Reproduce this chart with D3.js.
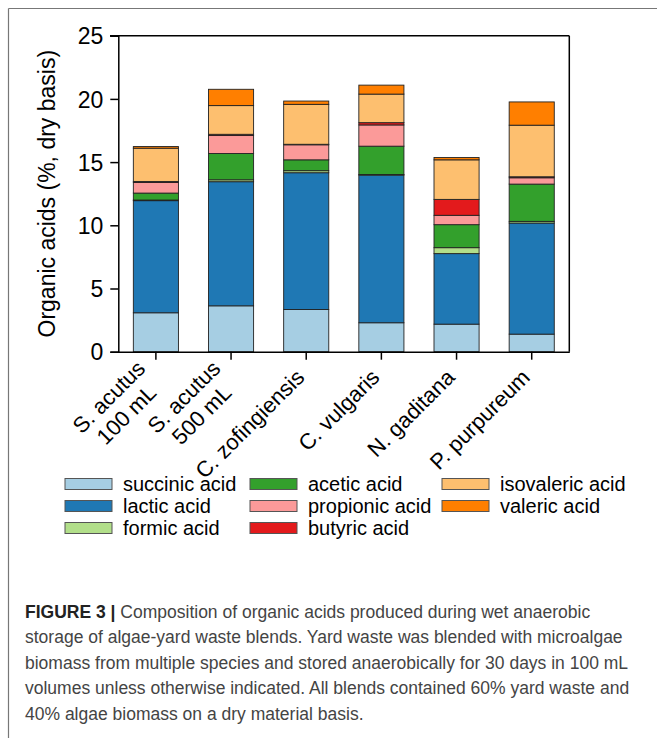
<!DOCTYPE html>
<html><head><meta charset="utf-8">
<script src="https://cdn.jsdelivr.net/npm/d3@7"></script>
<style>body{margin:0;background:#fff;}svg{display:block;font-family:"Liberation Sans",Arial,sans-serif;}</style>
</head><body><svg id="c" width="657" height="738"></svg>
<script>
const categories = [["S. acutus","100 mL"],["S. acutus","500 mL"],["C. zofingiensis"],["C. vulgaris"],["N. gaditana"],["P. purpureum"]];
const acids = ["succinic acid","lactic acid","formic acid","acetic acid","propionic acid","butyric acid","isovaleric acid","valeric acid"];
const colors = ["#a6cee3","#1f78b4","#b2df8a","#33a02c","#fb9a99","#e31a1c","#fdbf6f","#ff7f00"];
const succinic   = [3.08, 3.63, 3.34, 2.29, 2.18, 1.39];
const lactic     = [8.87, 9.82, 10.82, 11.68, 5.58, 8.79];
const formic     = [0.05, 0.15, 0.16, 0.05, 0.47, 0.13];
const acetic     = [0.55, 2.08, 0.86, 2.24, 1.82, 2.95];
const propionic  = [0.84, 1.42, 1.19, 1.68, 0.74, 0.50];
const butyric    = [0.08, 0.10, 0.04, 0.18, 1.26, 0.08];
const isovaleric = [2.63, 2.27, 3.16, 2.26, 3.13, 4.08];
const valeric    = [0.13, 1.29, 0.26, 0.71, 0.18, 1.84];
const yTicks = [0,5,10,15,20,25];
const caption = [
 "Composition of organic acids produced during wet anaerobic",
 "storage of algae-yard waste blends. Yard waste was blended with microalgae",
 "biomass from multiple species and stored anaerobically for 30 days in 100 mL",
 "volumes unless otherwise indicated. All blends contained 60% yard waste and",
 "40% algae biomass on a dry material basis."
];

const series = [succinic,lactic,formic,acetic,propionic,butyric,isovaleric,valeric];
const keys = categories.map(c=>c.join(" "));
const rows = keys.map((k,i)=>{const r={key:k}; acids.forEach((a,j)=>r[a]=series[j][i]); return r;});
const stacked = d3.stack().keys(acids)(rows);

const svg = d3.select("#c");
// figure border (top and left)
svg.append("line").attr("x1",8.5).attr("x2",657).attr("y1",8.5).attr("y2",8.5).attr("stroke","#777").attr("stroke-width",1.2);
svg.append("line").attr("x1",8.5).attr("x2",8.5).attr("y1",8.5).attr("y2",738).attr("stroke","#777").attr("stroke-width",1.2);

const L=118.3, R=569.3, T=35.7, B=351.7;
const x = d3.scaleBand().domain(keys).range([L,R]).paddingInner(0.4).paddingOuter(0.2);
const y = d3.scaleLinear().domain([0,25]).range([B,T]);

// bars
const g = svg.append("g");
stacked.forEach((s,j)=>{
  g.selectAll(null).data(s).enter().append("rect")
   .attr("x",d=>x(d.data.key)).attr("width",x.bandwidth())
   .attr("y",d=>y(d[1])).attr("height",d=>y(d[0])-y(d[1]))
   .attr("fill",colors[j]).attr("stroke","#222").attr("stroke-width",0.9);
});

// frame top/right
svg.append("line").attr("x1",110).attr("x2",R).attr("y1",T).attr("y2",T).attr("stroke","#000").attr("stroke-width",1.5);
svg.append("line").attr("x1",R).attr("x2",R).attr("y1",T).attr("y2",B).attr("stroke","#000").attr("stroke-width",1.5);

// y axis
const ya = svg.append("g").attr("transform",`translate(${L},0)`)
 .call(d3.axisLeft(y).tickValues(yTicks).tickSize(8).tickPadding(7).tickFormat(d3.format("d")));
ya.select(".domain").attr("stroke","#000").attr("stroke-width",1.5);
ya.selectAll(".tick line").attr("stroke","#000").attr("stroke-width",1.5);
ya.selectAll("text").attr("font-size",23).attr("font-family","Liberation Sans, Arial").attr("fill","#000").attr("dy","0.36em");

// x axis
const xa = svg.append("g").attr("transform",`translate(0,${B})`)
 .call(d3.axisBottom(x).tickSize(8).tickSizeOuter(0).tickFormat(""));
xa.select(".domain").attr("stroke","#000").attr("stroke-width",1.5);
xa.selectAll(".tick line").attr("stroke","#000").attr("stroke-width",1.5);
const fs = 22, lh = 25;
categories.forEach((c,i)=>{
  const cx = x(keys[i]) + x.bandwidth()/2;
  const n = c.length;
  const t = svg.append("text").attr("transform",`translate(${cx-0.5},${B+27}) rotate(-45)`)
    .attr("font-size",fs).attr("fill","#000");
  const spans = c.map((line,k)=>t.append("tspan").attr("y",(k-(n-1)/2)*lh).text(line));
  const ws = spans.map(s=>s.node().getComputedTextLength());
  const W = d3.max(ws);
  spans.forEach((s,k)=>s.attr("x",-W/2 - ws[k]/2));
});

// y label
svg.append("text").attr("transform",`translate(55,${(T+B)/2}) rotate(-90)`)
 .attr("text-anchor","middle").attr("font-size",23).attr("fill","#000")
 .text("Organic acids (%, dry basis)");

// legend
const legCols=[65,250,442], legRows=[484,506,528];
acids.forEach((a,i)=>{
  const col=Math.floor(i/3), row=i%3;
  const lx=legCols[col], ly=legRows[row];
  svg.append("rect").attr("x",lx).attr("y",ly-5.5).attr("width",47).attr("height",11)
   .attr("fill",colors[i]).attr("stroke","#555").attr("stroke-width",1);
  svg.append("text").attr("x",lx+58).attr("y",ly).attr("dy","0.35em").attr("font-size",20).attr("fill","#000").text(a);
});

// caption
const cap = svg.append("g").attr("font-size",17.5).attr("fill","#444");
caption.forEach((line,i)=>{
  const t = cap.append("text").attr("x",25).attr("y",618+i*25.4);
  if(i===0){
    t.append("tspan").attr("font-weight","bold").attr("fill","#222").text("FIGURE 3 | ");
  }
  t.append("tspan").text(line);
});
</script></body></html>
